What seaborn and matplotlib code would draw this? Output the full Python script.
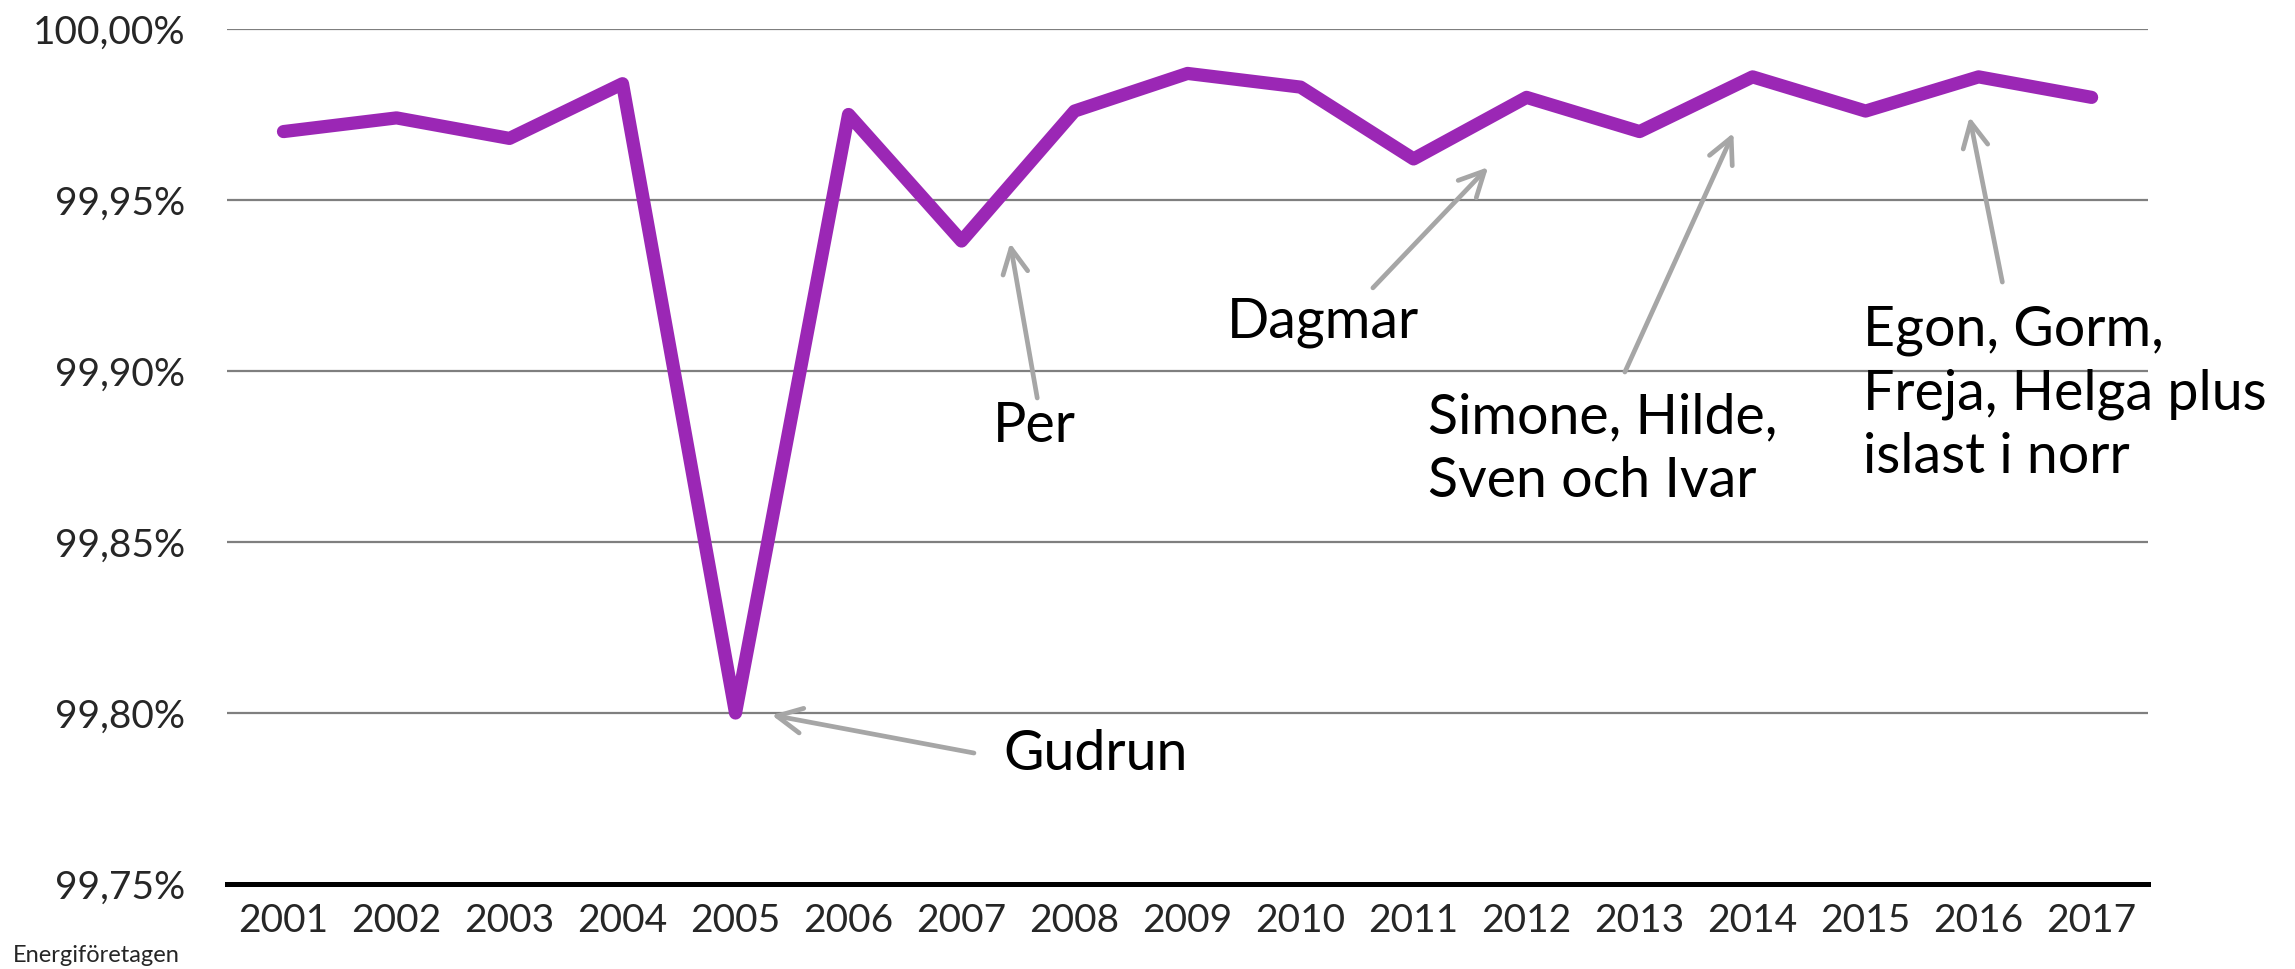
import matplotlib
matplotlib.use("Agg")
import matplotlib.pyplot as plt
import seaborn as sns
import pandas as pd

# ==========================================
# data
# ==========================================
years = list(range(2001, 2018))
leveranssakerhet = [99.970, 99.974, 99.968, 99.984, 99.800, 99.975, 99.938, 99.976,
                    99.987, 99.983, 99.962, 99.980, 99.970, 99.986, 99.976, 99.986, 99.980]
y_ticks = [99.75, 99.80, 99.85, 99.90, 99.95, 100.00]
y_tick_labels = ["99,75%", "99,80%", "99,85%", "99,90%", "99,95%", "100,00%"]

# storm labels: (text, arrow tip, arrow tail, text anchor = baseline of last line)
storms = [
    ("Gudrun", (2005.32, 99.7994), (2007.11, 99.7883), (2007.37, 99.7833)),
    ("Per", (2007.43, 99.9374), (2007.67, 99.8921), (2007.28, 99.8792)),
    ("Dagmar", (2011.66, 99.9596), (2010.64, 99.9243), (2009.35, 99.9099)),
    ("Simone, Hilde,\nSven och Ivar", (2013.83, 99.9696), (2012.87, 99.8997), (2011.13, 99.8632)),
    ("Egon, Gorm,\nFreja, Helga plus\nislast i norr", (2015.92, 99.9743), (2016.21, 99.9260), (2014.98, 99.8702)),
]

df = pd.DataFrame({"year": years, "value": leveranssakerhet})

sns.set_theme(style="white")
plt.rcParams["font.family"] = ["Lato", "DejaVu Sans"]

fig, ax = plt.subplots(figsize=(22.95, 9.69), dpi=100)
fig.subplots_adjust(left=0.0989, right=0.936, bottom=0.0877, top=0.9701)

# grid lines
for yt in y_ticks[1:]:
    ax.axhline(yt, color="#7f7f7f", lw=1.6, zorder=1)

sns.lineplot(data=df, x="year", y="value", ax=ax, color="#9B27B5", lw=9.5,
             solid_capstyle="round", solid_joinstyle="round", zorder=3)

ax.set_xlim(2000.5, 2017.5)
ax.set_ylim(99.75, 100.0)
ax.set_xticks(years)
ax.set_xticklabels([str(y) for y in years], fontsize=28)
ax.set_yticks(y_ticks)
ax.set_yticklabels(y_tick_labels, fontsize=28)
ax.tick_params(axis="y", length=0, pad=30)
ax.tick_params(axis="x", length=0, pad=14)
ax.set_xlabel("")
ax.set_ylabel("")

for side in ["top", "right", "left"]:
    ax.spines[side].set_visible(False)
ax.spines["bottom"].set_color("black")
ax.spines["bottom"].set_linewidth(3.6)
ax.spines["bottom"].set_zorder(4)

# annotations
for label, tip, tail, pos in storms:
    ax.annotate("", xy=tip, xytext=tail,
                arrowprops=dict(arrowstyle="->,head_length=0.9,head_width=0.45",
                                color="#A6A6A6", lw=3.4, mutation_scale=20,
                                shrinkA=0, shrinkB=0, capstyle="round"),
                zorder=5)
    ax.text(pos[0], pos[1], label, fontsize=40, ha="left", va="baseline",
            linespacing=1.3, color="black", zorder=6)

fig.text(0.0057, 0.007, "Energiföretagen", fontsize=17, ha="left", va="baseline")

plt.savefig("out.png", dpi=100)
